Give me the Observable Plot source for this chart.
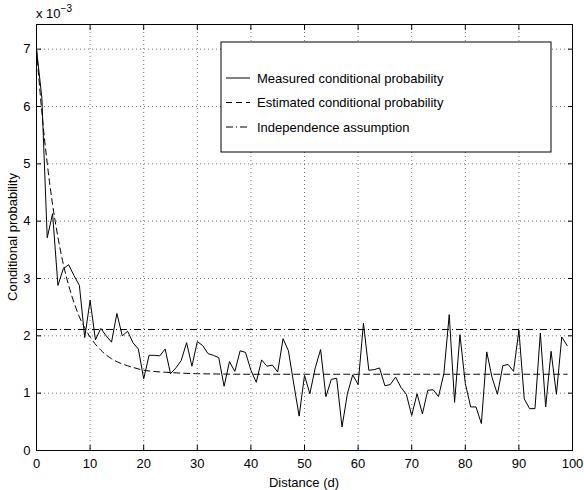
<!DOCTYPE html>
<html>
<head>
<meta charset="utf-8">
<script src="https://cdn.jsdelivr.net/npm/d3@7"></script>
<script src="https://cdn.jsdelivr.net/npm/@observablehq/plot@0.6"></script>
<style>
  html, body { margin: 0; padding: 0; background: #fff; }
  #chart { width: 584px; height: 490px; }
</style>
</head>
<body>
<div id="chart"></div>
<script>
// Values in units of 10^-3
const measured = [
  7.00, 6.15, 3.71, 4.13, 2.88, 3.17, 3.24, 3.05, 2.88, 1.97,
  2.62, 1.93, 2.13, 2.00, 1.89, 2.39, 2.00, 2.08, 1.88, 1.77,
  1.25, 1.66, 1.66, 1.65, 1.77, 1.34, 1.44, 1.57, 1.88, 1.47,
  1.90, 1.83, 1.69, 1.66, 1.62, 1.12, 1.55, 1.38, 1.74, 1.71,
  1.40, 1.19, 1.58, 1.47, 1.49, 1.37, 1.95, 1.74, 1.16, 0.60,
  1.31, 0.99, 1.44, 1.76, 0.94, 1.24, 1.26, 0.41, 0.99, 1.32,
  1.15, 2.22, 1.40, 1.41, 1.44, 1.13, 1.15, 1.28, 1.10, 0.98,
  0.61, 0.99, 0.64, 1.05, 1.06, 0.94, 1.34, 2.37, 0.84, 2.02,
  1.17, 0.76, 0.76, 0.47, 1.72, 1.27, 0.98, 1.48, 1.50, 1.38,
  2.10, 0.90, 0.73, 0.73, 2.05, 0.76, 1.73, 0.98, 1.98, 1.83
];
const estDistance = [0, 1, 2, 3, 4, 5, 6, 7, 8, 9, 10, 12, 14, 16, 18, 20, 25, 30, 40, 50, 60, 70, 80, 90, 99];
const estValue    = [7.00, 5.90, 5.01, 4.29, 3.72, 3.25, 2.88, 2.58, 2.33, 2.14, 1.98, 1.75, 1.60, 1.51, 1.45, 1.40, 1.36, 1.34, 1.33, 1.33, 1.33, 1.33, 1.33, 1.33, 1.33];
const independence = [2.11];
const xTicks = [0, 10, 20, 30, 40, 50, 60, 70, 80, 90, 100];
const yTicks = [0, 1, 2, 3, 4, 5, 6, 7];
const legendLabels = ["Measured conditional probability", "Estimated conditional probability", "Independence assumption"];

const measuredData = measured.map((v, i) => ({d: i, v}));
const estData = estDistance.map((d, i) => ({d, v: estValue[i]}));

const FONT = "Liberation Sans, Arial, Helvetica, sans-serif";
const DASH = "6,4";
const DASHDOT = "7,3,1,3";

const plot = Plot.plot({
  width: 584,
  height: 490,
  marginLeft: 36,
  marginRight: 12,
  marginTop: 24,
  marginBottom: 40,
  style: {fontFamily: FONT, fontSize: "13px", color: "#000", background: "#fff"},
  x: {domain: [0, 100]},
  y: {domain: [0, 7.43]},
  marks: [
    Plot.gridX(xTicks.slice(1, -1), {stroke: "#777", strokeOpacity: 1, strokeDasharray: "1,3"}),
    Plot.gridY(yTicks.slice(1), {stroke: "#777", strokeOpacity: 1, strokeDasharray: "1,3"}),
    Plot.ruleY(independence, {stroke: "#000", strokeWidth: 1, strokeDasharray: DASHDOT}),
    Plot.line(estData, {x: "d", y: "v", stroke: "#000", strokeWidth: 1, strokeDasharray: DASH, curve: "monotone-x"}),
    Plot.line(measuredData, {x: "d", y: "v", stroke: "#000", strokeWidth: 1}),
    Plot.axisX(xTicks, {anchor: "bottom", tickSize: 0, tickPadding: 8, label: null, fontSize: 13, tickFormat: d => String(d)}),
    Plot.axisY(yTicks, {anchor: "left", tickSize: 0, tickPadding: 6, label: null, fontSize: 13, tickFormat: d => String(d)}),
    Plot.axisX(xTicks, {anchor: "bottom", tickSize: -5, tickFormat: () => "", label: null}),
    Plot.axisX(xTicks, {anchor: "top", tickSize: -5, tickFormat: () => "", label: null}),
    Plot.axisY(yTicks, {anchor: "left", tickSize: -5, tickFormat: () => "", label: null}),
    Plot.axisY(yTicks, {anchor: "right", tickSize: -5, tickFormat: () => "", label: null}),
    Plot.frame({stroke: "#000", strokeWidth: 1})
  ]
});

document.getElementById("chart").appendChild(plot);

const svg = d3.select(plot);

// Axis labels
svg.append("text")
  .attr("x", 304).attr("y", 487)
  .attr("text-anchor", "middle")
  .style("font-family", FONT).style("font-size", "13px").attr("fill", "#000")
  .text("Distance (d)");

svg.append("text")
  .attr("transform", "translate(17,237) rotate(-90)")
  .attr("text-anchor", "middle")
  .style("font-family", FONT).style("font-size", "13px").attr("fill", "#000")
  .text("Conditional probability");

// Exponent label
const ex = svg.append("text")
  .attr("x", 36).attr("y", 18)
  .attr("text-anchor", "start")
  .style("font-family", FONT).style("font-size", "13px").attr("fill", "#000");
ex.append("tspan").text("x 10");
ex.append("tspan").attr("dy", -6).style("font-size", "10px").text("−3");

// Legend
const lg = svg.append("g");
lg.append("rect")
  .attr("x", 221).attr("y", 42).attr("width", 330).attr("height", 110)
  .attr("fill", "#fff").attr("stroke", "#000").attr("stroke-width", 1);
const dashes = [null, DASH, DASHDOT];
legendLabels.forEach((lab, i) => {
  const yy = 78 + i * 24.5;
  lg.append("line")
    .attr("x1", 226).attr("x2", 250).attr("y1", yy).attr("y2", yy)
    .attr("stroke", "#000").attr("stroke-width", 1)
    .attr("stroke-dasharray", dashes[i]);
  lg.append("text")
    .attr("x", 257).attr("y", yy).attr("dy", "0.35em")
    .attr("text-anchor", "start")
    .style("font-family", FONT).style("font-size", "13px").attr("fill", "#000")
    .text(lab);
});
</script>
</body>
</html>
